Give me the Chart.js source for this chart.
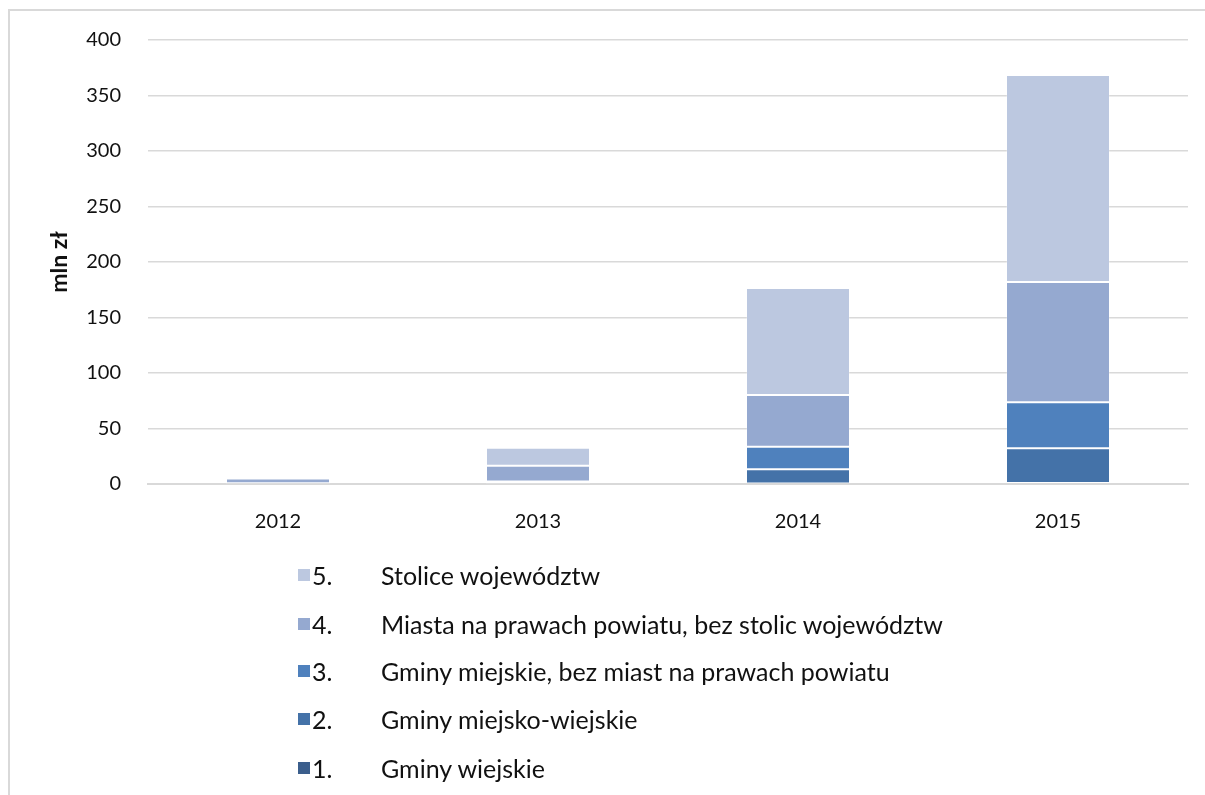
<!DOCTYPE html>
<html>
<head>
<meta charset="utf-8">
<script src="https://cdn.jsdelivr.net/npm/chart.js@4.4.0/dist/chart.umd.min.js"></script>
<style>
  html, body { margin: 0; padding: 0; background: #fff; width: 1205px; height: 795px; overflow: hidden; }
  #frame { position: absolute; left: 8px; top: 9px; width: 1300px; height: 900px; border-left: 2px solid #D9D9D9; border-top: 2px solid #D9D9D9; }
  #wrap { position: absolute; left: 0; top: 0; width: 1205px; height: 795px; }
  #legend { position: absolute; left: 0; top: 0; font-family: Lato, "Open Sans", sans-serif; font-size: 25px; color: #111; }
  .item { position: absolute; white-space: nowrap; height: 28px; line-height: 28px; }
  .box { position: absolute; left: 298px; top: 8px; width: 12px; height: 12px; }
  .num { position: absolute; left: 312px; top: 0; }
  .lab { position: absolute; left: 381px; top: 0; }
</style>
</head>
<body>
<div id="frame"></div>
<div id="wrap"><canvas id="c" width="1205" height="795"></canvas></div>
<div id="legend"></div>
<script>
const categories = ['2012', '2013', '2014', '2015'];
const seriesNames = ['Gminy wiejskie', 'Gminy miejsko-wiejskie', 'Gminy miejskie, bez miast na prawach powiatu', 'Miasta na prawach powiatu, bez stolic województw', 'Stolice województw'];
const seriesNumbers = ['1.', '2.', '3.', '4.', '5.'];
const gminyWiejskie = [0.1, 0.3, 0.5, 0.8];
const gminyMiejskoWiejskie = [0.2, 0.7, 12.7, 31.4];
const gminyMiejskie = [0.3, 1.2, 20.4, 41.4];
const miastaNaPrawachPowiatu = [4.4, 14.3, 46.6, 108.4];
const stoliceWojewodztw = [0.6, 16.2, 96.4, 186.5];
const yTicks = [0, 50, 100, 150, 200, 250, 300, 350, 400];
const yTitle = 'mln zł';

const colors = ['#3B5E8C', '#4472A8', '#4F81BD', '#95A9D0', '#BCC8E0'];
const seriesValues = [gminyWiejskie, gminyMiejskoWiejskie, gminyMiejskie, miastaNaPrawachPowiatu, stoliceWojewodztw];

const FONT = 'Lato, "Open Sans", sans-serif';

const chart = new Chart(document.getElementById('c'), {
  type: 'bar',
  data: {
    labels: categories,
    datasets: seriesValues.map((v, i) => ({
      label: seriesNumbers[i] + ' ' + seriesNames[i],
      data: v,
      backgroundColor: colors[i],
      borderColor: 'rgba(255,255,255,0.2)',
      borderWidth: 1,
      borderSkipped: false,
      categoryPercentage: 1,
      barPercentage: 0.4
    }))
  },
  options: {
    responsive: false,
    animation: false,
    events: [],
    layout: { padding: { left: 46, right: 17, top: 40, bottom: 251 } },
    plugins: { legend: { display: false }, title: { display: false }, tooltip: { enabled: false } },
    scales: {
      x: {
        stacked: true,
        grid: { display: false, drawTicks: false },
        border: { display: true, color: '#D9D9D9', width: 2 },
        ticks: { color: '#111', font: { family: FONT, size: 20 }, padding: 26 },
        afterFit: s => { s.height = 60; }
      },
      y: {
        stacked: true,
        min: 0, max: 400,
        afterBuildTicks: s => { s.ticks = yTicks.map(v => ({ value: v })); },
        grid: { color: '#D9D9D9', lineWidth: 1.5, drawTicks: false },
        border: { display: false },
        ticks: { color: '#111', font: { family: FONT, size: 20 }, padding: 27 },
        title: { display: true, text: yTitle, color: '#111', font: { family: FONT, size: 23, weight: 'bold' }, padding: 0 },
        afterFit: s => { s.width = 102; }
      }
    }
  }
});

// Legend built from chart datasets (reverse order like reference)
const legendTops = [561, 610, 657, 705, 754];
const leg = document.getElementById('legend');
chart.data.datasets.slice().reverse().forEach((ds, k) => {
  const idx = seriesValues.length - 1 - k;
  const it = document.createElement('div');
  it.className = 'item';
  it.style.top = legendTops[k] + 'px';
  it.innerHTML = '<span class="box" style="background:' + ds.backgroundColor + '"></span>' +
    '<span class="num">' + seriesNumbers[idx] + '</span>' +
    '<span class="lab">' + seriesNames[idx] + '</span>';
  leg.appendChild(it);
});
</script>
</body>
</html>
